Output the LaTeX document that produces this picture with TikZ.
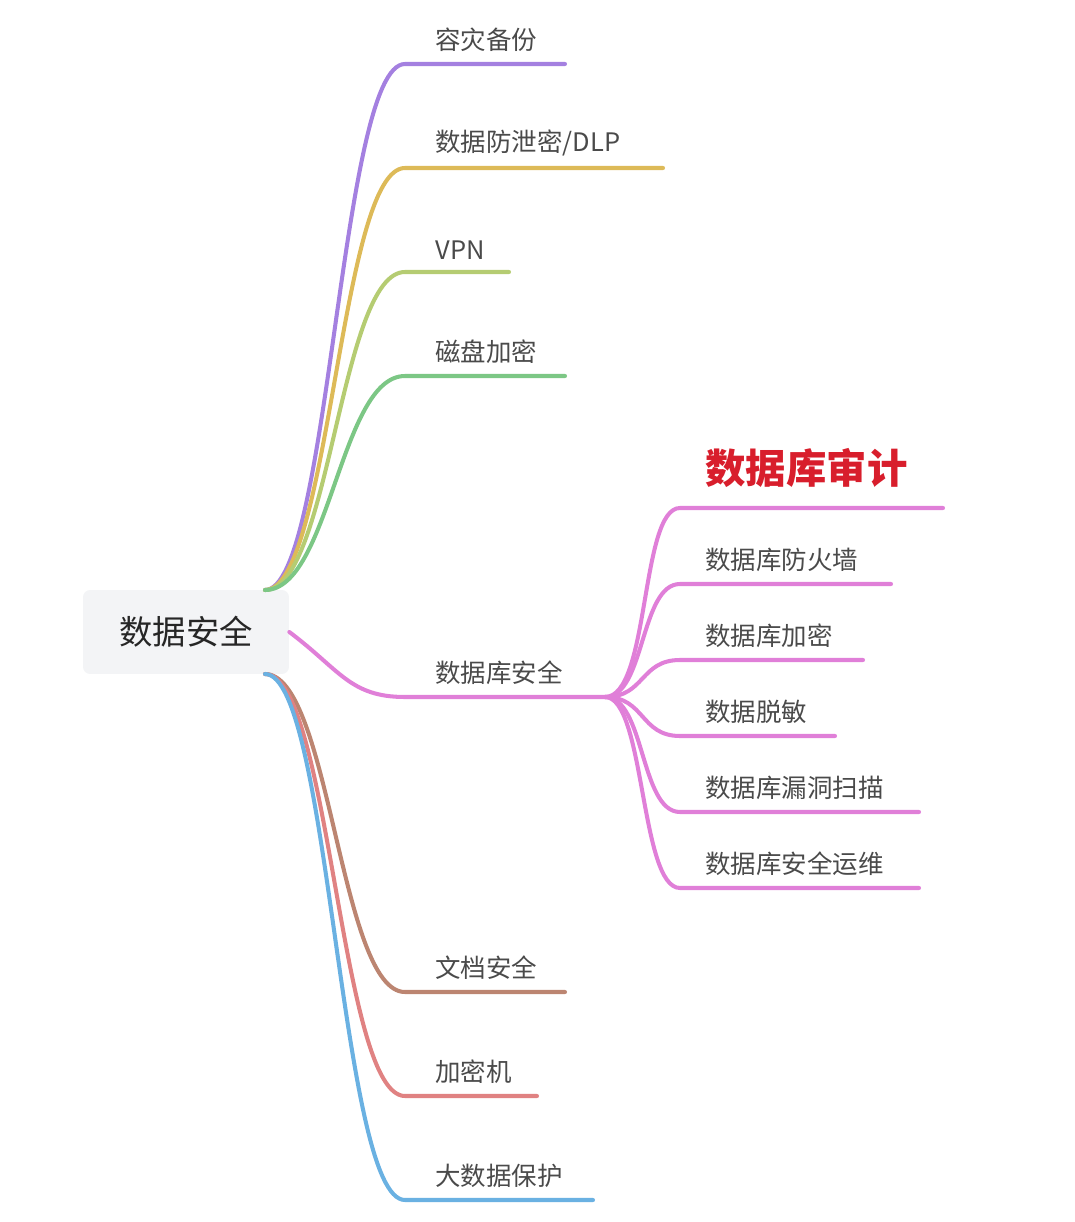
\documentclass[tikz,border=0pt]{standalone}
\usepackage{fontspec}
\setmainfont{Noto Sans CJK SC}
\definecolor{cpurple}{HTML}{A480E0}
\definecolor{cgold}{HTML}{DDBA58}
\definecolor{colive}{HTML}{B5CC72}
\definecolor{cgreen}{HTML}{7CC785}
\definecolor{cpink}{HTML}{E07FD8}
\definecolor{cbrown}{HTML}{BC8571}
\definecolor{crose}{HTML}{E08282}
\definecolor{cblue}{HTML}{6AB1E2}
\definecolor{cred}{HTML}{D81E2C}
\definecolor{ctext}{HTML}{4A4A4A}
\definecolor{crootbg}{HTML}{F3F4F6}
\tikzset{
  rootbox/.style={fill=crootbg, rounded corners=4pt, minimum width=4.12cm, minimum height=1.68cm, font=\fontsize{19pt}{19pt}\selectfont, text=black!85},
  leaf/.style={anchor=south west, inner sep=0pt, text=ctext, font=\fontsize{14.5pt}{14.5pt}\selectfont},
  branch/.style={line width=2.3pt, line cap=round},
}
\begin{document}
\begin{tikzpicture}[x=0.02cm, y=-0.02cm]
\useasboundingbox (0,0) rectangle (1074,1222);
\node[rootbox] (root) at (186,632) {数据安全};
% main branches
\foreach \name/\yy/\xe/\col/\txt/\sy in {
  b1/64/565/cpurple/容灾备份/590,
  b2/168/663/cgold/{数据防泄密/DLP}/590,
  b3/272/509/colive/VPN/590,
  b4/376/565/cgreen/磁盘加密/590,
  b6/992/565/cbrown/文档安全/674,
  b7/1096/537/crose/加密机/674,
  b8/1200/593/cblue/大数据保护/674}{
  \node[leaf] (\name) at (435,\yy-12) {\txt};
  \coordinate (\name s) at (265,\sy);
  \coordinate (\name e) at (\xe,\yy);
  \draw[branch, \col] (\name s) .. controls (330,\sy) and (340,\yy) .. (405,\yy) -- (\name e);
}
\node[leaf] (b5) at (435,685) {数据库安全};
\coordinate (b5e) at (605,697);
\draw[branch, cpink] (root.east) .. controls (340,670) and (350,697) .. (405,697) -- (b5e);
% database sub-branches
\node[leaf, anchor=south west, text=cred, font=\fontsize{23pt}{23pt}\bfseries\selectfont] (d1) at (705,488) {数据库审计};
\coordinate (d1e) at (943,508);
\draw[branch, cpink] (b5e) .. controls (650,697) and (640,508) .. (680,508) -- (d1e);
\foreach \name/\yy/\xe/\txt in {
  d2/584/891/数据库防火墙,
  d3/660/863/数据库加密,
  d4/736/835/数据脱敏,
  d5/812/919/数据库漏洞扫描,
  d6/888/919/数据库安全运维}{
  \node[leaf] (\name) at (705,\yy-12) {\txt};
  \coordinate (\name e) at (\xe,\yy);
  \draw[branch, cpink] (b5e) .. controls (645,697) and (640,\yy) .. (680,\yy) -- (\name e);
}
\end{tikzpicture}
\end{document}
